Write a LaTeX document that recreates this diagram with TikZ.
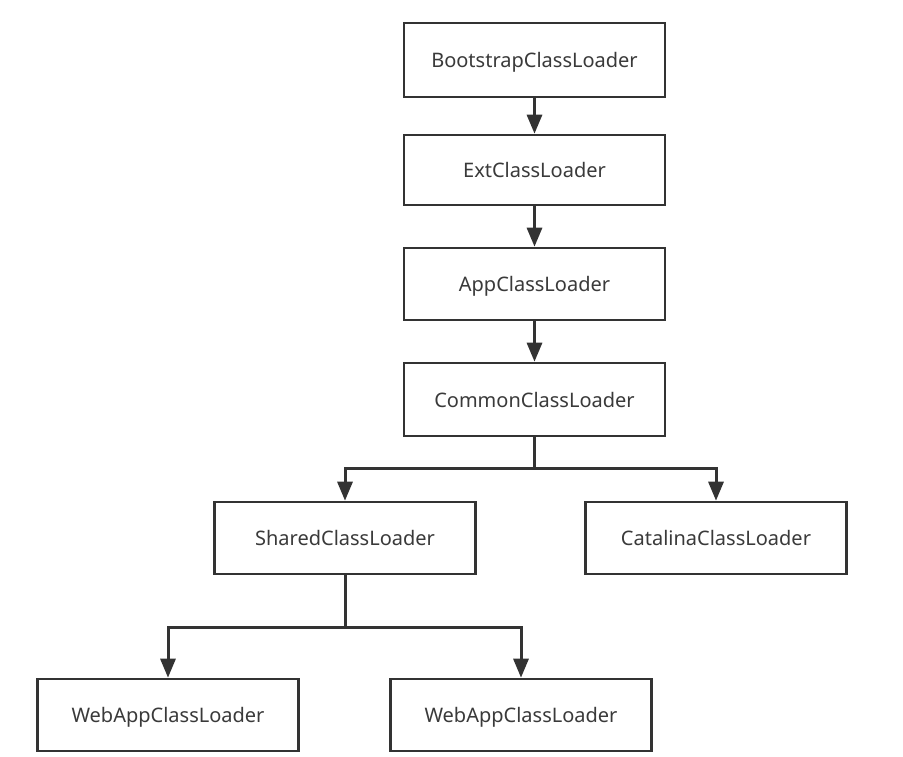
\documentclass[tikz,border=0pt]{standalone}
\usepackage{fontspec}
\setmainfont{Noto Sans}
\usetikzlibrary{arrows.meta}
\definecolor{ink}{HTML}{333333}
\definecolor{txt}{HTML}{3A3A3A}
\begin{document}
\begin{tikzpicture}[x=1pt,y=-1pt,
  box/.style={draw=ink, line width=2.6pt, fill=white, minimum width=261pt, minimum height=72pt, inner sep=0pt, text=txt, text height=15pt, text depth=0pt, font=\fontsize{20}{23}\selectfont},
  arr/.style={draw=ink, line width=3pt, -{Triangle[width=15pt,length=19pt]}}]
\fill[white] (0,0) rectangle (903,757);
\useasboundingbox (0,0) rectangle (903,757);
\node[box, minimum height=74pt] (boot) at (534.5,60) {BootstrapClassLoader};
\node[box, minimum height=70pt] (ext) at (534.5,170) {ExtClassLoader};
\node[box] (app) at (534.5,284) {AppClassLoader};
\node[box, minimum height=73pt] (common) at (534.5,399.5) {CommonClassLoader};
\node[box] (shared) at (345,538) {SharedClassLoader};
\node[box] (catalina) at (716,538) {CatalinaClassLoader};
\node[box] (web1) at (168,715) {WebAppClassLoader};
\node[box] (web2) at (521,715) {WebAppClassLoader};
\coordinate (j1) at (534.5,468);
\coordinate (j2) at (345,627);
\draw[arr] (boot) -- (ext);
\draw[arr] (ext) -- (app);
\draw[arr] (app) -- (common);
\draw[arr] (common.south) -- (j1) -| (shared.north);
\draw[arr] (j1) -| (catalina.north);
\draw[arr] (shared.south) -- (j2) -| (web1.north);
\draw[arr] (j2) -| (web2.north);
\end{tikzpicture}
\end{document}
